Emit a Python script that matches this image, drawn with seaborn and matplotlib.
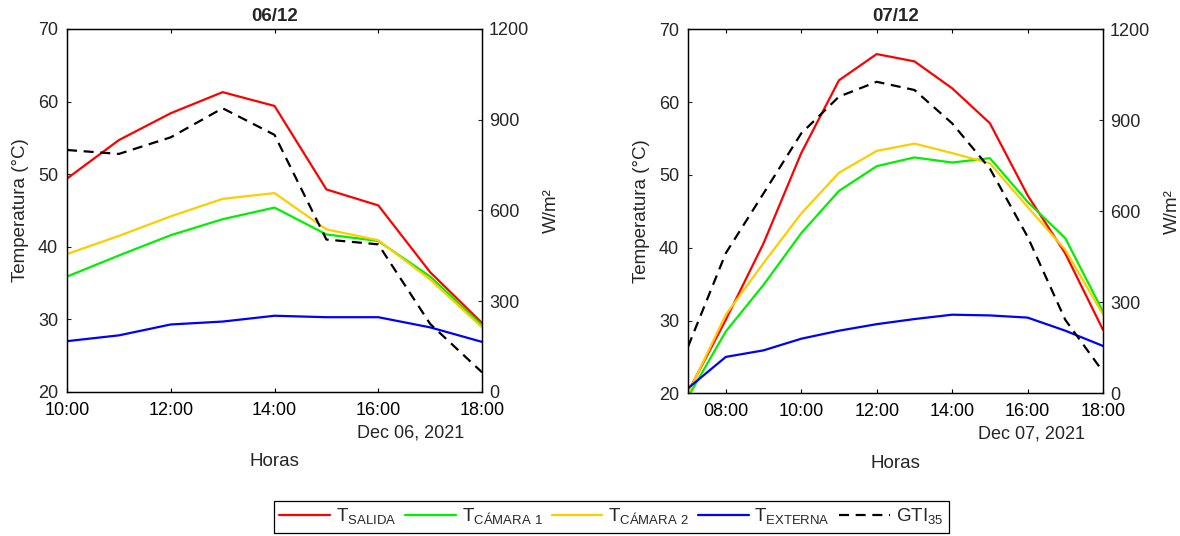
import pandas as pd
import numpy as np
import matplotlib.pyplot as plt
import seaborn as sns
from matplotlib.ticker import FuncFormatter, MultipleLocator

sns.set_style("white")
plt.rcParams['font.family'] = ['Liberation Sans', 'DejaVu Sans']
plt.rcParams['mathtext.fontset'] = 'custom'
plt.rcParams['mathtext.rm'] = 'Liberation Sans'

# --- data ---
# 06/12
hours_06 = [10, 11, 12, 13, 14, 15, 16, 17, 18]
salida_06 = [49.4, 54.7, 58.4, 61.3, 59.4, 47.9, 45.7, 36.5, 29.5]
camara1_06 = [35.9, 38.8, 41.6, 43.8, 45.4, 41.7, 40.8, 35.9, 29.2]
camara2_06 = [39.0, 41.5, 44.2, 46.6, 47.4, 42.4, 40.9, 35.5, 28.9]
externa_06 = [27.0, 27.8, 29.3, 29.7, 30.5, 30.3, 30.3, 28.9, 26.9]
gti_06 = [800, 787, 842, 938, 850, 504, 488, 225, 65]

# 07/12
hours_07 = [7, 8, 9, 10, 11, 12, 13, 14, 15, 16, 17, 18]
salida_07 = [20.2, 30.1, 40.6, 53.0, 63.0, 66.6, 65.6, 61.9, 57.1, 47.2, 39.2, 28.7]
camara1_07 = [19.5, 28.5, 34.9, 42.0, 47.8, 51.2, 52.4, 51.7, 52.3, 46.3, 41.3, 31.2]
camara2_07 = [20.0, 30.8, 37.9, 44.7, 50.3, 53.3, 54.3, 53.0, 51.6, 45.6, 39.7, 30.8]
externa_07 = [20.7, 25.0, 25.9, 27.5, 28.6, 29.5, 30.2, 30.8, 30.7, 30.4, 28.6, 26.5]
gti_07 = [154, 462, 659, 857, 978, 1027, 1000, 890, 741, 516, 242, 71]

titles = ["06/12", "07/12"]
dates = ["Dec 06, 2021", "Dec 07, 2021"]
series_names = ["salida", "camara1", "camara2", "externa"]
labels = [r'T$_\mathregular{SALIDA}$', r'T$_\mathregular{CÁMARA\ 1}$',
          r'T$_\mathregular{CÁMARA\ 2}$', r'T$_\mathregular{EXTERNA}$',
          r'GTI$_\mathregular{35}$']
colors = ['#ff0000', '#00f000', '#ffcc00', '#0000ff']

days = [
    pd.DataFrame({"hora": hours_06, "salida": salida_06, "camara1": camara1_06,
                  "camara2": camara2_06, "externa": externa_06, "gti": gti_06}),
    pd.DataFrame({"hora": hours_07, "salida": salida_07, "camara1": camara1_07,
                  "camara2": camara2_07, "externa": externa_07, "gti": gti_07}),
]

fig = plt.figure(figsize=(11.8, 5.36), dpi=100)
positions = [[0.0568, 0.2687, 0.3517, 0.6772], [0.5831, 0.2662, 0.3517, 0.6791]]
xlims = [(10, 18), (7, 18)]
xticks = [[10, 12, 14, 16, 18], [8, 10, 12, 14, 16, 18]]

fs = 13          # tick labels / date text
fl = 13.5        # axis labels, title, legend
lw = 1.6
handles = []

for i, df in enumerate(days):
    ax = fig.add_axes(positions[i])
    ax2 = ax.twinx()

    for name, col, lab in zip(series_names, colors, labels[:4]):
        sns.lineplot(data=df, x="hora", y=name, ax=ax, color=col, linewidth=lw, label=lab)
    sns.lineplot(data=df, x="hora", y="gti", ax=ax2, color='black', linewidth=lw,
                 linestyle=(0, (4.5, 3)), label=labels[4])

    for a in (ax, ax2):
        if a.get_legend() is not None:
            a.get_legend().remove()

    if i == 0:
        handles = ax.get_lines()[:4] + ax2.get_lines()[:1]

    ax.set_xlim(*xlims[i])
    ax.set_ylim(20, 70)
    ax2.set_ylim(0, 1200)
    ax.set_xticks(xticks[i])
    ax.xaxis.set_major_formatter(FuncFormatter(lambda v, p: "%02d:00" % int(v)))
    ax.yaxis.set_major_locator(MultipleLocator(10))
    ax2.yaxis.set_major_locator(MultipleLocator(300))

    ax.tick_params(axis='x', direction='in', length=3, width=0.8, top=True,
                   bottom=True, labelsize=fs, pad=7, colors='black')
    ax.tick_params(axis='y', direction='in', length=3, width=0.8, left=True,
                   right=False, labelsize=fs, pad=6.5)
    ax2.tick_params(axis='y', direction='in', length=3, width=0.8, right=True,
                    labelsize=fs, pad=5)

    for a in (ax, ax2):
        for s in a.spines.values():
            s.set_color('black')
            s.set_linewidth(0.9)

    ax.set_title(titles[i], fontsize=fl, fontweight='bold', pad=6)
    ax.set_ylabel("Temperatura (°C)", fontsize=fl, labelpad=6)
    ax2.set_ylabel("W/m²", fontsize=fl, labelpad=10)
    ax.set_xlabel("Horas", fontsize=fl, labelpad=25)
    ax.text(0.957, -0.113, dates[i], transform=ax.transAxes, ha='right',
            va='center', fontsize=fs)

fig.legend(handles, labels, loc='center', bbox_to_anchor=(0.518, 0.0354), ncol=5,
           fontsize=fl, frameon=True, fancybox=False, edgecolor='black',
           handlelength=2.7, handletextpad=0.3, columnspacing=0.5, borderpad=0.3,
           framealpha=1)
fig.legends[0].get_frame().set_linewidth(0.9)

fig.savefig("out.png", dpi=100)
